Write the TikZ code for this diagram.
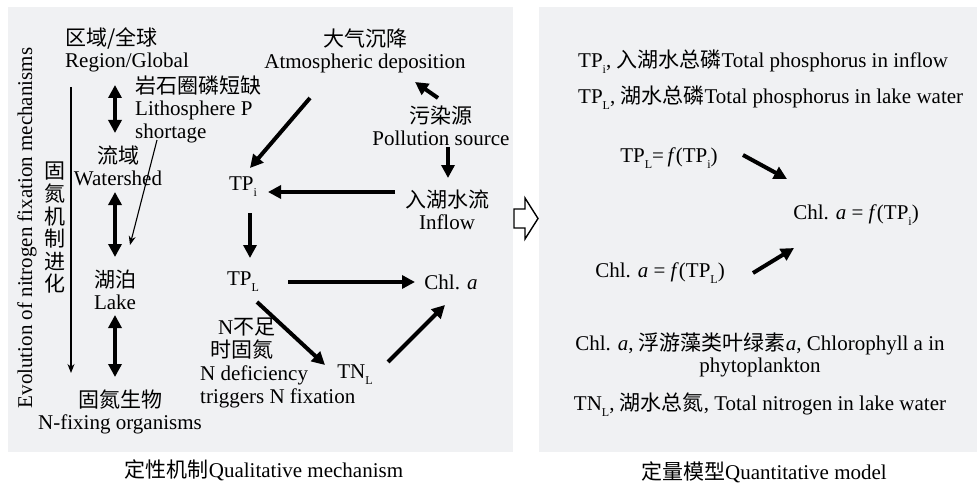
\documentclass[tikz,border=0pt]{standalone}
\usepackage{fontspec}
\setmainfont{Liberation Serif}
\newfontfamily\cjk{Noto Sans CJK SC}
\usetikzlibrary{arrows.meta,calc}
\definecolor{panel}{HTML}{F0F1F3}
% small lowered subscript in the text font
\newcommand\sbs[1]{\raisebox{-0.28em}{\fontsize{12}{12}\selectfont #1}}
\begin{document}
\begin{tikzpicture}[x=1pt,y=-1pt,
  every node/.style={font=\fontsize{21}{22.5}\selectfont, inner sep=0pt, text=black},
  bigarrow/.style={line width=4pt, -{Triangle[length=13pt,width=13pt]}},
  twoway/.style={line width=4pt, {Triangle[length=13pt,width=13pt]}-{Triangle[length=13pt,width=13pt]}},
  finearrow/.style={line width=1.1pt, -{Stealth[length=9pt,width=7pt]}},
]
\useasboundingbox (0,0) rectangle (977,484);
\fill[white] (0,0) rectangle (977,484);
\fill[panel] (8,7) rectangle (513,452);
\fill[panel] (539,7) rectangle (977,452);

% ---------- qualitative mechanism ----------
\node[align=left, anchor=west] (reg) at (65,50) {{\cjk 区域/全球}\\Region/Global};
\node[align=left, anchor=west] (lith) at (135,109) {{\cjk 岩石圈磷短缺}\\Lithosphere P\\shortage};
\node[align=center] (ws) at (118,166) {{\cjk 流域}\\Watershed};
\node[align=center] (lake) at (115,290) {{\cjk 湖泊}\\Lake};
\node[align=center] (nfix) at (120,412) {{\cjk 固氮生物}\\N-fixing organisms};
\node[rotate=90] (evo) at (27,228) {Evolution of nitrogen fixation mechanisms};
\node[align=center, font=\fontsize{21}{22.6}\selectfont\cjk] (zhi) at (55,228) {固\\氮\\机\\制\\进\\化};
\coordinate (evotop) at (71,87);
\coordinate (evobot) at (71,373);
\draw[finearrow] (evotop) -- (evobot);

\draw[twoway] ($(reg.west)+(50,35)$) -- ($(ws)+(-3,-33)$);
\draw[twoway] ($(ws)+(-3,26)$) -- ($(lake)+(0,-33)$);
\draw[twoway] ($(lake)+(0,25)$) -- ($(nfix)+(-5,-35)$);
\draw[finearrow] ($(lith.west)+(22,31)$) -- ($(lake)+(15,-45)$);

\node[align=center] (atm) at (365,51) {{\cjk 大气沉降}\\Atmospheric deposition};
\node[align=center] (poll) at (441,126) {{\cjk 污染源}\\Pollution source};
\node[align=center] (inflow) at (447,210) {{\cjk 入湖水流}\\Inflow};
\node (tpi) at (243,187) {TP\sbs{i}};
\node (tpl) at (243,282) {TP\sbs{L}};
\node (chl) at (451,282) {Chl. \textit{a}};
\node (tnl) at (355,375) {TN\sbs{L}};
\node[align=left, anchor=west, font=\fontsize{21}{23}\selectfont] (ndef) at (200,363)
  {\hspace*{18pt}N{\cjk 不足}\\\hspace*{10pt}{\cjk 时固氮}\\N deficiency\\triggers N fixation};

\draw[bigarrow] ($(atm)+(-55,47)$) -- ($(tpi)+(7,-19)$);
\draw[bigarrow] ($(poll)+(-3,-28)$) -- ($(atm)+(50,31)$);
\draw[bigarrow] ($(poll)+(7,21)$) -- ($(inflow)+(1,-32)$);
\draw[bigarrow] ($(inflow)+(-52,-18)$) -- ($(tpi)+(25,5)$);
\draw[bigarrow] ($(tpi)+(7,26)$) -- ($(tpl)+(7,-24)$);
\draw[bigarrow] ($(tpl)+(45,0)$) -- ($(chl)+(-36,0)$);
\draw[bigarrow] ($(tpl)+(14,20)$) -- ($(tnl)+(-30,-10)$);
\draw[bigarrow] ($(tnl)+(33,-13)$) -- ($(chl)+(-6,23)$);

\node (cap1) at (264,470) {{\cjk 定性机制}Qualitative mechanism};

% ---------- hollow transition arrow ----------
\draw[line width=1.4pt, fill=white, line join=miter]
  (514,209) -- (525,209) -- (525,198) -- (538,218.5) -- (525,239) -- (525,228) -- (514,228) -- cycle;

% ---------- quantitative model ----------
\node[anchor=west] (tdef1) at (578,62) {TP\sbs{i}, {\cjk 入湖水总磷}Total phosphorus in inflow};
\node[anchor=west] (tdef2) at (578,98) {TP\sbs{L}, {\cjk 湖水总磷}Total phosphorus in lake water};
\node (f1) at (669,158) {TP\sbs{L}=\,\textit{f}(TP\sbs{i})};
\node (res) at (856,215) {Chl. \textit{a} = \textit{f}(TP\sbs{i})};
\node (f2) at (660,273) {Chl. \textit{a} = \textit{f}(TP\sbs{L})};
\draw[bigarrow] ($(f1)+(74,-3)$) -- ($(res)+(-69,-36)$);
\draw[bigarrow] ($(f2)+(93,0)$) -- ($(res)+(-62,33)$);
\node[align=center] (cdef) at (760,355) {Chl. \textit{a}, {\cjk 浮游藻类叶绿素}\textit{a}, Chlorophyll a in\\phytoplankton};
\node (ndef2) at (760,405) {TN\sbs{L}, {\cjk 湖水总氮}, Total nitrogen in lake water};

\node (cap2) at (764,472) {{\cjk 定量模型}Quantitative model};
\end{tikzpicture}
\end{document}
